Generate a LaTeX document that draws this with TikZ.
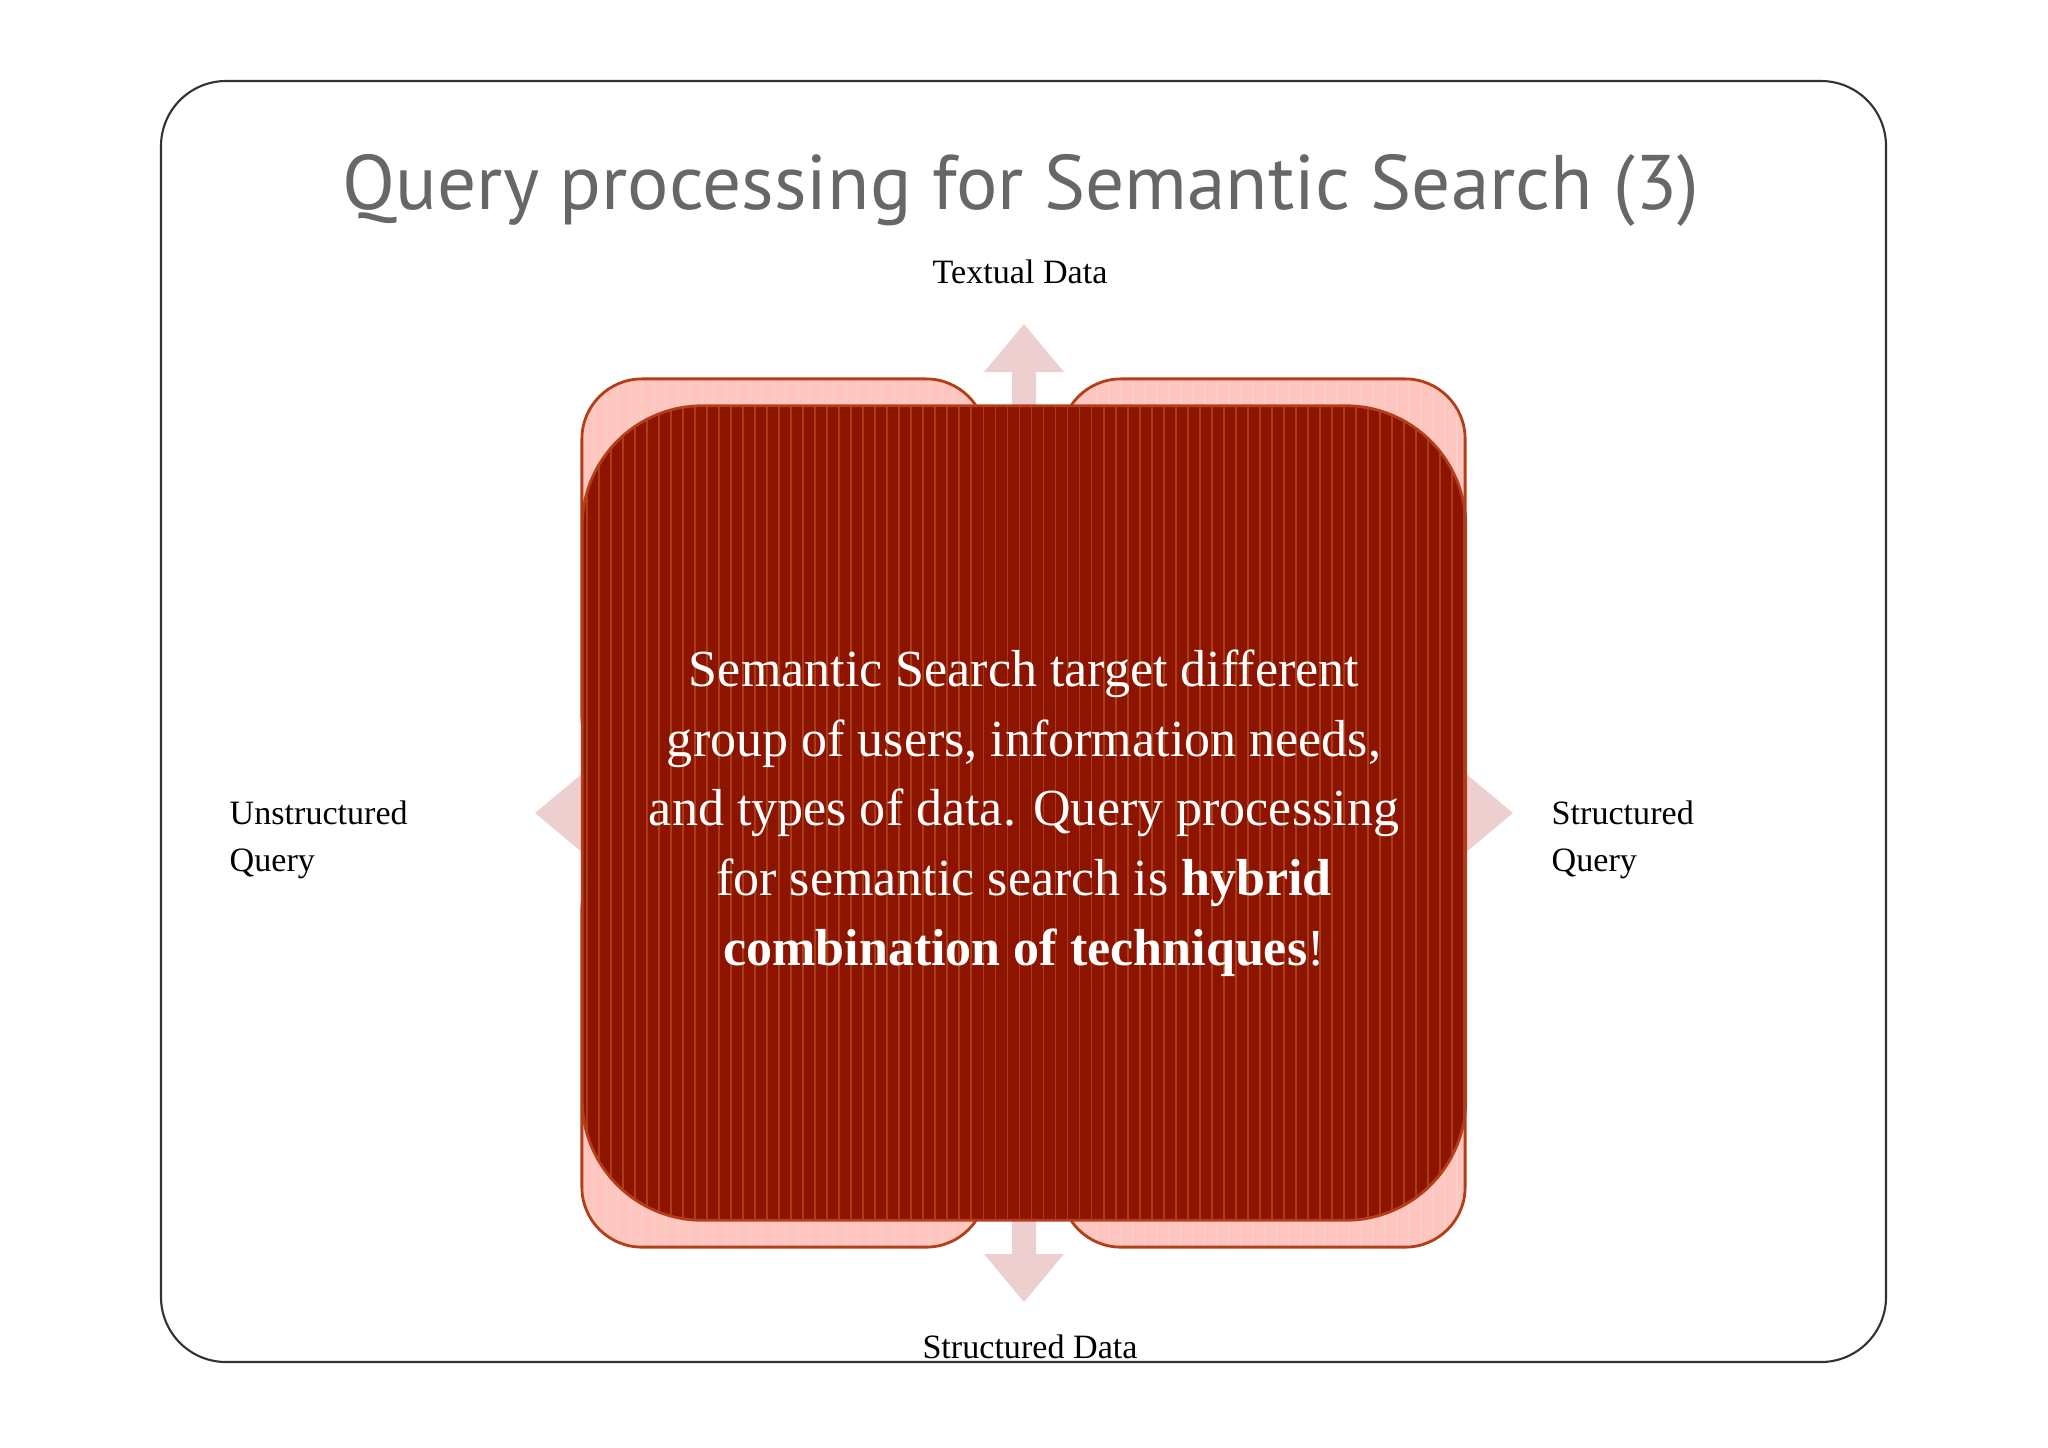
\documentclass[tikz,border=0pt]{standalone}
\usepackage{fontspec}
\setmainfont{Liberation Serif}
\newfontfamily\titlefont{PT Sans}
\usetikzlibrary{positioning}

\definecolor{framegray}{RGB}{50,50,50}
\definecolor{titlegray}{RGB}{103,103,103}
\definecolor{arrowpink}{RGB}{238,207,207}
\definecolor{quadpink}{RGB}{255,198,191}
\definecolor{quadstripe}{RGB}{250,206,200}
\definecolor{rimred}{RGB}{180,62,24}
\definecolor{hubred}{RGB}{141,20,0}
\definecolor{stripered}{RGB}{172,62,22}

\begin{document}
\begin{tikzpicture}[
    x=0.01cm, y=-0.01cm,
    every node/.style={inner sep=0pt},
    tag/.style={font=\fontsize{9.7}{13.3}\selectfont},
    side/.style={tag, align=left, anchor=north west},
    quad/.style={draw=rimred, line width=0.8pt, fill=quadpink, rounded corners=0.6cm,
        minimum width=4.04cm, minimum height=3.98cm},
    hub/.style={draw=rimred, line width=0.8pt, fill=hubred, rounded corners=1.2cm,
        minimum width=8.83cm, minimum height=8.14cm, text=white, align=center,
        font=\fontsize{14.8}{19.8}\selectfont},
    flow/.style={fill=arrowpink},
]
    \useasboundingbox (0,0) rectangle (2048,1447);
    \draw[framegray, line width=0.6pt, rounded corners=0.65cm] (161,81) rectangle (1886,1362);

    \node[titlegray, font=\titlefont\fontsize{22}{26}\selectfont, anchor=base] (title) at (1021,209)
        {Query processing for Semantic Search (3)};

    \coordinate (mid) at (1024,813);
    % four arrows behind the boxes
    \foreach \ang in {0,90,180,270} {
        \fill[flow, shift={(mid)}, rotate=\ang] (-12,0) -- (-12,-441) -- (-40,-441) -- (0,-489)
            -- (40,-441) -- (12,-441) -- (12,0) -- cycle;
    }

    \foreach \qx/\qy/\qname in {784/578/qnw, 1263/578/qne, 784/1048/qsw, 1263/1048/qse} {
        \node[quad, path picture={
                \foreach \s in {0,...,34}
                    \draw[quadstripe, line width=0.5pt] ([xshift=\s*0.12cm]path picture bounding box.north west) -- ++(0,-4.1cm);
            }] (\qname) at (\qx,\qy) {};
    }

    \node[hub, path picture={
            \foreach \s in {0,...,74}
                \draw[stripered, line width=0.55pt] ([xshift=\s*0.12cm+0.05cm]path picture bounding box.north west) -- ++(0,-8.2cm);
        }] (hub) at (mid)
        {Semantic Search target different\\ group of users, information needs,\\
         and types of data. Query processing\\ for semantic search is \textbf{hybrid}\\
         \textbf{combination of techniques}!};

    \node[tag, anchor=base] (textual) at (1020,283) {Textual Data};
    \node[tag, anchor=base] (structdata) at (1030,1358) {Structured Data};
    \node[side] (unsq) at (229,800) {Unstructured\\Query};
    \node[side] (sq) at (1551,800) {Structured\\Query};

\end{tikzpicture}
\end{document}
